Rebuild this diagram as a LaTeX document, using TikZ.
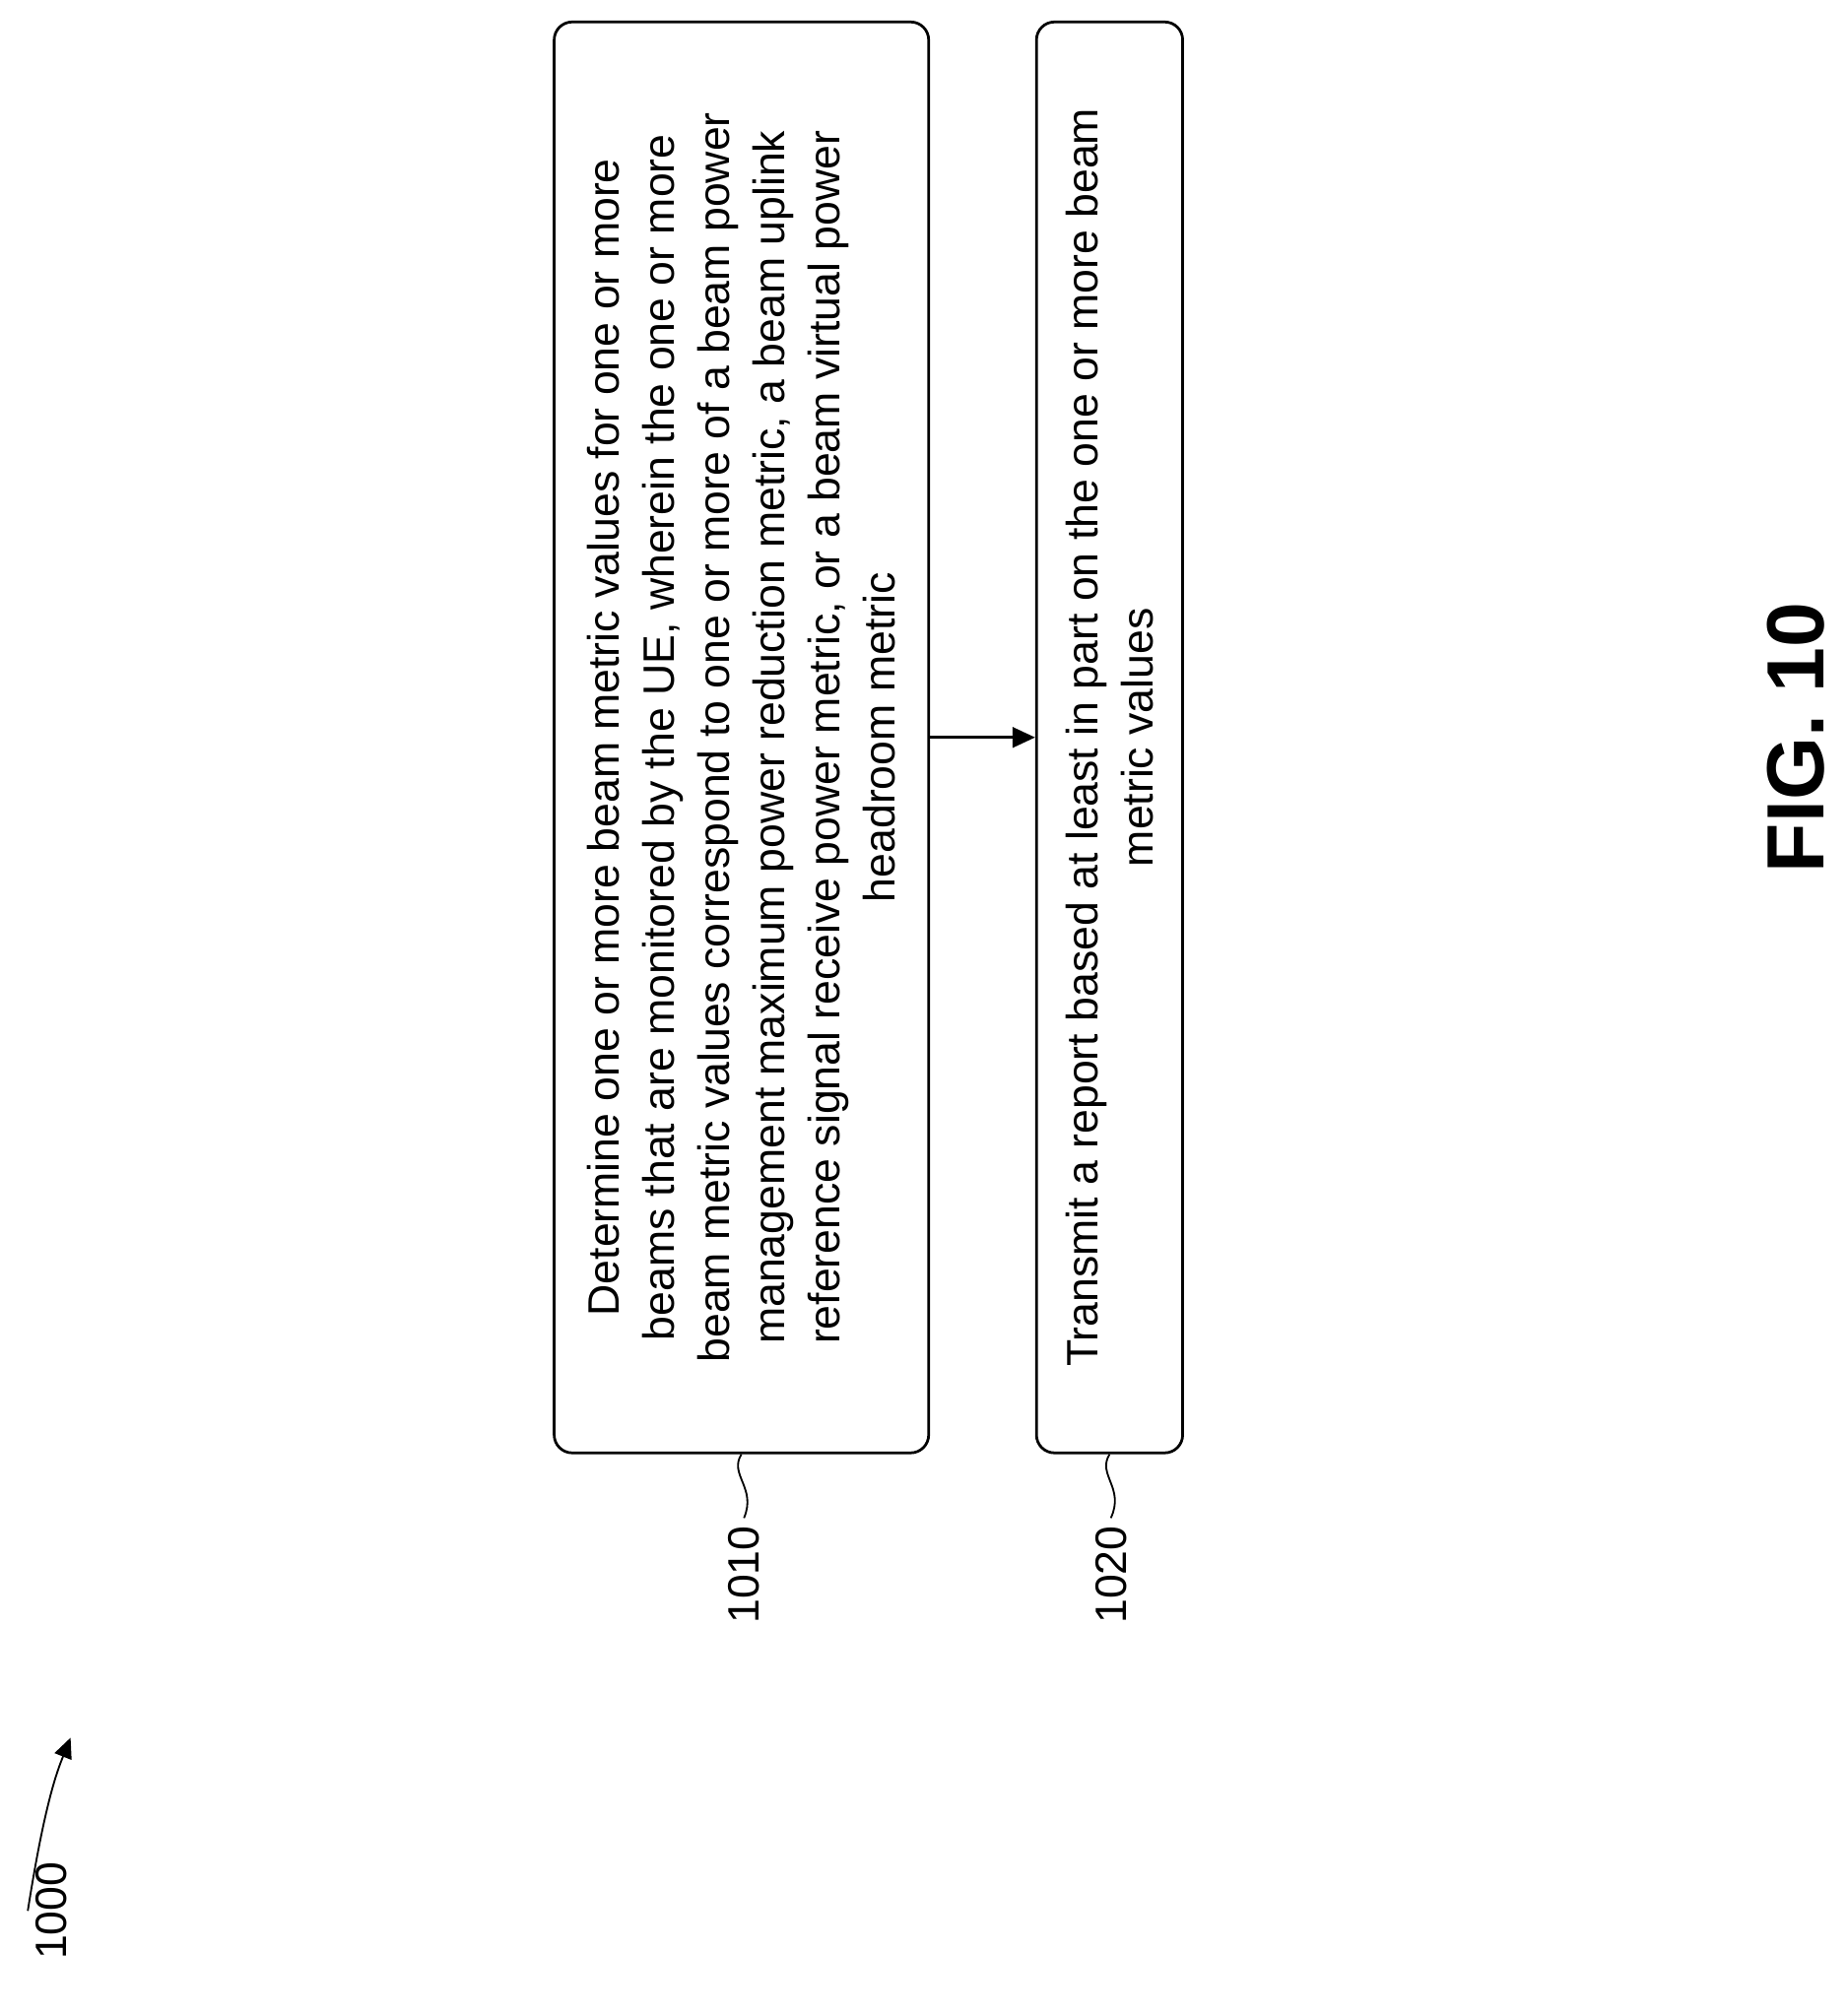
\documentclass[tikz,border=0pt]{standalone}
\usepackage{fontspec}
\setmainfont{Liberation Sans}
\usetikzlibrary{arrows.meta}
\begin{document}
\begin{tikzpicture}[x=0.02cm,y=-0.02cm,
    stepbox/.style={draw,very thick,rounded corners=8pt,rotate=90,align=center,
      font=\fontsize{19.5}{24.5}\selectfont,minimum width=22.32cm,inner sep=2pt},
    reflabel/.style={rotate=90,font=\fontsize{19.5}{24}\selectfont},
    flow/.style={very thick,-{Triangle[length=10pt,width=9pt]}}]
    \useasboundingbox (0,0) rectangle (1440,1572);
    \node[stepbox,minimum height=5.84cm] (s1) at (578,575) {Determine one or more beam metric values for one or more\\
        beams that are monitored by the UE, wherein the one or more\\
        beam metric values correspond to one or more of a beam power\\
        management maximum power reduction metric, a beam uplink\\
        reference signal receive power metric, or a beam virtual power\\
        headroom metric};
    \node[stepbox,minimum height=2.28cm] (s2) at (865,575) {Transmit a report based at least in part on the one or more beam\\
        metric values};
    \draw[flow] (s1.south) -- (s2.north);
    % reference numerals
    \node[reflabel] (n1) at (580,1228) {1010};
    \node[reflabel] (n2) at (866,1228) {1020};
    \draw[thick] (s1.west) .. controls (568,1150) and (590,1160) .. (n1.east);
    \draw[thick] (s2.west) .. controls (855,1150) and (877,1160) .. (n2.east);
    \node[reflabel] (fig) at (40,1490) {1000};
    \coordinate (tip) at (55,1355);
    \draw[thick,-{Triangle[length=9pt,width=8pt]}] (fig.north) .. controls (35,1405) and (45,1380) .. (tip);
    \node[rotate=90,font=\fontsize{36}{40}\selectfont\bfseries] (title) at (1400,575) {FIG. 10};
\end{tikzpicture}
\end{document}
